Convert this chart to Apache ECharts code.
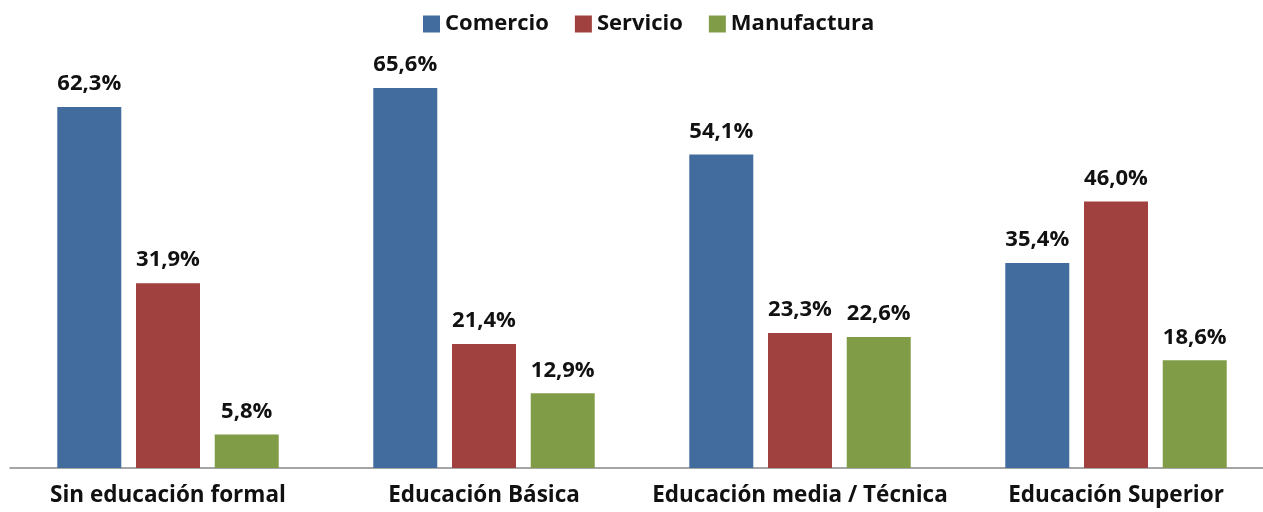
<!DOCTYPE html>
<html><head><meta charset="utf-8">
<script src="https://cdn.jsdelivr.net/npm/echarts@6/dist/echarts.min.js"></script>
<style>html,body{margin:0;padding:0;background:#fff}#c{width:1263px;height:512px}</style>
</head><body><div id="c"></div>
<script>
const categories = ['Sin educación formal', 'Educación Básica', 'Educación media / Técnica', 'Educación Superior'];
const seriesNames = ['Comercio', 'Servicio', 'Manufactura'];
const comercio = [62.3, 65.6, 54.1, 35.4];
const servicio = [31.9, 21.4, 23.3, 46.0];
const manufactura = [5.8, 12.9, 22.6, 18.6];
const colors = ['#426C9E', '#A0413F', '#819C46'];

const font = '"Open Sans", sans-serif';
const chart = echarts.init(document.getElementById('c'));
const mk = (name, data, i) => ({
  name, type: 'bar', data,
  barWidth: 64, barGap: '23%',
  itemStyle: { color: colors[i] },
  label: { show: true, position: 'top', distance: 12, fontFamily: font, fontWeight: 'bold', fontSize: 22, color: '#111',
    formatter: p => p.value.toFixed(1).replace('.', ',') + '%' }
});
chart.setOption({
  animation: false,
  legend: { top: 8, left: 418, itemWidth: 17, itemHeight: 17, itemGap: 26,
    icon: 'rect',
    textStyle: { fontFamily: font, fontWeight: 'bold', fontSize: 22, color: '#111' } },
  grid: { left: 10, width: 1264, top: 62.5, bottom: 44, outerBoundsMode: 'none', containLabel: false },
  xAxis: { type: 'category', data: categories,
    axisLine: { lineStyle: { color: '#888', width: 1.5 } }, axisTick: { show: false },
    axisLabel: { interval: 0, margin: 16, fontFamily: font, fontWeight: 'bold', fontSize: 22.5, color: '#111' } },
  yAxis: { type: 'value', min: 0, max: 70, show: false, splitLine: { show: false } },
  series: [mk(seriesNames[0], comercio, 0), mk(seriesNames[1], servicio, 1), mk(seriesNames[2], manufactura, 2)]
});
</script></body></html>
